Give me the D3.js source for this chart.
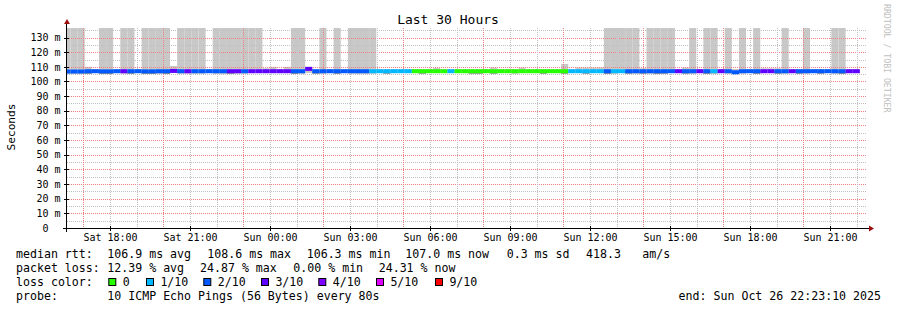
<!DOCTYPE html>
<html>
<head>
  <meta charset="utf-8">
  <title>Last 30 Hours</title>
  <script src="https://cdn.jsdelivr.net/npm/d3@7"></script>
  <style>
    body { margin: 0; background: #fff; }
    text { font-family: "DejaVu Sans Mono", monospace; }
  </style>
</head>
<body>
<svg id="graph" width="897" height="310"></svg>
<script>

// 30 hour window ending at the last update
var endTime = new Date(Date.UTC(2025, 9, 26, 22, 23, 10));
var startTime = new Date(endTime.getTime() - 30 * 3600 * 1000);
var binSeconds = 960;      // consolidated step (12 x 80s)
var binOffset = -488;      // first bin starts before the window

// packets lost (out of 10) per bin
var lossBins = [2,2,2,2,2,2,2,2, 3, 2,2,2,2,2,2, 3, 2, 3, 2,2,2,2,2, 3,3, 2, 3,3,3,3,3,3,
  2,2, 3, 2,2,2,2,2,2,2,2, 1,1,1,1,1,1, 0,0,0,0,0, 1, 0,0,0,0,0,0,0,0,0,0,0,0,0,0,0,0,
  1,1,1,1,1, 2, 1,1, 2,2,2,2,2,2,2, 3, 2,2, 3, 2, 1, 3, 2,2,2,2,2, 3,3, 2,2, 3,
  2,2,2,2,2,2,2, 3,3];

// median rtt per bin (ms)
var medianBins = [106.8,106.8,106.8,107.0,107.0,106.9,106.9,107.0,107.0,107.0,107.0,106.9,106.9,107.0,107.0,107.2,
  107.0,107.0,107.0,107.0,107.0,107.0,107.0,107.0,107.0,107.0,107.0,107.0,107.0,107.0,107.0,107.0,
  107.0,107.0,108.6,107.0,107.0,107.0,107.0,107.0,107.0,107.0,107.0,107.0,107.0,107.0,107.0,107.0,
  107.0,107.0,107.0,107.0,107.0,107.0,107.0,107.0,107.0,107.0,107.0,107.0,107.0,107.0,107.0,107.0,
  107.0,107.0,107.0,107.0,107.0,107.0,107.0,107.0,107.0,107.0,107.0,107.0,107.0,107.0,107.0,107.0,
  107.0,107.0,107.0,107.0,107.0,107.0,107.0,107.0,107.0,107.0,107.0,107.0,107.0,107.0,106.3,107.0,
  107.0,107.0,107.0,107.0,107.0,107.0,107.0,107.0,107.0,107.0,107.0,107.0,107.0,107.0,107.0,107.0];

// smoke (ping spread) per bin, ms; 150 = off the top of the graph
var smokeMax = [150,150,150,110.0,108.5,150,150,108.5,150,150,108.5,150,150,150,150,110.6,
  150,150,150,150,108.5,150,150,150,150,150,150,150,109.0,110.0,108.5,110.0,
  150,150,110.0,108.5,150,108.5,150,108.5,150,150,150,150,108.5,108.5,108.5,108.5,
  108.5,108.5,108.5,108.5,109.2,108.5,108.5,108.5,108.5,108.5,108.5,108.5,109.5,108.5,108.5,108.5,
  109.5,108.5,108.5,108.5,108.5,108.5,112.0,108.5,109.5,109.5,109.5,109.5,150,150,150,150,
  150,109.0,150,150,150,150,108.5,109.5,150,108.5,150,150,108.5,150,108.5,150,
  108.5,150,109.0,109.0,109.0,150,108.5,108.5,150,108.5,108.5,108.5,150,150,108.5,108.5];
var smokeMin = [105.0,105.0,105.0,105.2,105.8,105.0,105.0,105.8,105.2,105.2,105.8,105.2,105.2,105.0,105.0,105.8,
  105.2,105.2,105.2,105.2,105.8,105.0,105.0,105.2,105.2,105.2,105.8,105.8,105.8,105.8,105.8,105.8,
  105.0,105.0,105.8,105.8,105.2,105.8,105.2,105.8,105.2,105.0,105.0,105.2,105.8,105.8,105.8,105.8,
  105.8,105.8,105.8,105.8,105.8,105.8,105.8,105.8,105.8,105.8,105.8,105.8,105.8,105.8,105.8,105.2,
  105.8,105.8,105.8,105.8,105.8,105.8,105.8,105.8,105.8,105.8,105.8,105.8,105.2,105.2,105.8,105.8,
  105.2,105.8,105.2,105.0,105.8,105.8,105.8,105.8,105.2,105.8,105.2,105.0,105.8,105.2,105.0,105.2,
  105.8,105.2,105.8,105.8,105.8,105.2,105.8,105.8,105.2,105.8,105.8,105.8,105.2,105.2,105.8,105.8];
// denser smoke just under the median (0 = none visible)
var darkSmoke = [0,0,0,105.3,0,105.3,105.3,0,0,105.3,0,105.3,105.3,0,105.3,0,
  0,0,0,0,0,0,0,105.3,0,0,0,0,0,0,0,0,
  105.3,0,0,105.3,0,0,105.3,0,0,0,0,0,0,105.3,0,0,
  0,0,105.3,0,0,0,0,0,0,105.3,105.3,0,105.3,0,0,0,
  0,0,0,105.3,0,0,105.3,0,0,105.3,0,0,105.3,0,0,105.3,
  0,105.3,0,105.3,105.3,0,0,105.3,0,0,105.3,0,0,0,105.3,0,
  0,105.3,0,0,105.3,0,0,105.3,0,0,105.3,0,0,105.3,0,0];

var yTicks = [0,10,20,30,40,50,60,70,80,90,100,110,120,130];

var lossColors = ["#26ff00","#00b8ff","#0059ff","#5e00ff","#7e00ff","#dd00ff","#dd00ff","#dd00ff","#dd00ff","#ff0000","#ff0000"];
var legendLabels = ["0","1/10","2/10","3/10","4/10","5/10","9/10"];
var legendLoss = [0,1,2,3,4,5,9];

var rttStats = ["106.9 ms avg","108.6 ms max","106.3 ms min","107.0 ms now","0.3 ms sd","418.3","am/s"];
var lossStats = ["12.39 % avg","24.87 % max","0.00 % min","24.31 % now"];

var svg = d3.select("#graph");

var x = d3.scaleUtc().domain([startTime, endTime]).range([67, 867]);
var y = d3.scaleLinear().domain([0, 136.5]).range([228, 28]);

function binStart(i) {
  var t = startTime.getTime() + (binOffset + i * binSeconds) * 1000;
  return new Date(Math.max(t, startTime.getTime()));
}
function binEnd(i) {
  return new Date(startTime.getTime() + (binOffset + (i + 1) * binSeconds) * 1000);
}

var bins = lossBins.map(function(l, i) {
  return {i: i, loss: l, median: medianBins[i], lo: smokeMin[i], hi: smokeMax[i], dark: darkSmoke[i]};
});

svg.append("defs").append("clipPath").attr("id", "plot")
  .append("rect").attr("x", 67).attr("y", 28).attr("width", 800).attr("height", 200);

// smoke
var smoke = svg.append("g").attr("clip-path", "url(#plot)");
smoke.selectAll(".light").data(bins).enter().append("rect")
    .attr("x", function(d) { return x(binStart(d.i)); })
    .attr("width", function(d) { return x(binEnd(d.i)) - x(binStart(d.i)); })
    .attr("y", function(d) { return y(d.hi); })
    .attr("height", function(d) { return y(d.lo) - y(d.hi); })
    .attr("fill", "#c8c8c8");
smoke.selectAll(".dark").data(bins.filter(function(d) { return d.dark > 0; })).enter().append("rect")
    .attr("x", function(d) { return x(binStart(d.i)); })
    .attr("width", function(d) { return x(binEnd(d.i)) - x(binStart(d.i)); })
    .attr("y", function(d) { return y(d.median); })
    .attr("height", function(d) { return y(d.dark) - y(d.median); })
    .attr("fill", "#808080");

// grid
var grid = svg.append("g").attr("shape-rendering", "crispEdges");
var minorY = d3.range(5, 136, 10);
grid.selectAll(".hmin").data(minorY).enter().append("line")
  .attr("x1", 67).attr("x2", 867)
  .attr("y1", function(d) { return Math.round(y(d)) + 0.5; })
  .attr("y2", function(d) { return Math.round(y(d)) + 0.5; })
  .attr("stroke", "#c0c0c0").attr("stroke-dasharray", "1,1");
grid.selectAll(".hmaj").data(yTicks.slice(1)).enter().append("line")
  .attr("x1", 67).attr("x2", 867)
  .attr("y1", function(d) { return Math.round(y(d)) + 0.5; })
  .attr("y2", function(d) { return Math.round(y(d)) + 0.5; })
  .attr("stroke", "#f08080").attr("stroke-dasharray", "1,1");

var hours = x.ticks(d3.utcHour.every(1));
grid.selectAll(".vgrid").data(hours).enter().append("line")
  .attr("x1", function(d) { return Math.round(x(d)) + 0.5; })
  .attr("x2", function(d) { return Math.round(x(d)) + 0.5; })
  .attr("y1", 28).attr("y2", 228)
  .attr("stroke", function(d) { return d.getUTCHours() % 3 === 2 ? "#f08080" : "#c0c0c0"; })
  .attr("stroke-dasharray", "1,1");

// median line coloured by loss
svg.append("g")
  .selectAll("rect").data(bins).enter().append("rect")
    .attr("x", function(d) { return x(binStart(d.i)); })
    .attr("width", function(d) { return x(binEnd(d.i)) - x(binStart(d.i)); })
    .attr("y", function(d) { return y(d.median) - 2; })
    .attr("height", 4)
    .attr("fill", function(d) { return lossColors[d.loss]; });

// axes
var yAxis = svg.append("g").attr("transform", "translate(67,0)")
  .call(d3.axisLeft(y).tickValues(yTicks).tickSize(0).tickPadding(6.5)
    .tickFormat(function(d) { return d ? d + " m" : "0\u00a0\u00a0"; }));
yAxis.select(".domain").remove();
yAxis.selectAll("text").attr("font-family", "DejaVu Sans Mono").attr("font-size", 10).attr("fill", "#000");

var xAxis = svg.append("g").attr("transform", "translate(0,228)")
  .call(d3.axisBottom(x).ticks(d3.utcHour.every(3)).tickSize(0).tickPadding(6)
    .tickFormat(d3.utcFormat("%a %H:%M")));
xAxis.select(".domain").remove();
xAxis.selectAll("text").attr("font-family", "DejaVu Sans Mono").attr("font-size", 10).attr("fill", "#000");

var ax = svg.append("g").attr("shape-rendering", "crispEdges");
ax.append("line").attr("x1", 66.5).attr("x2", 66.5).attr("y1", 24).attr("y2", 232).attr("stroke", "#000");
ax.append("line").attr("x1", 63).attr("x2", 870).attr("y1", 228.5).attr("y2", 228.5).attr("stroke", "#000");
ax.selectAll(".yt").data(yTicks.slice(1)).enter().append("line")
  .attr("x1", 64).attr("x2", 69)
  .attr("y1", function(d) { return Math.round(y(d)) + 0.5; })
  .attr("y2", function(d) { return Math.round(y(d)) + 0.5; })
  .attr("stroke", "#000");
ax.selectAll(".xt").data(x.ticks(d3.utcHour.every(3))).enter().append("line")
  .attr("x1", function(d) { return Math.round(x(d)) + 0.5; })
  .attr("x2", function(d) { return Math.round(x(d)) + 0.5; })
  .attr("y1", 226).attr("y2", 231)
  .attr("stroke", "#000");
svg.append("path").attr("d", "M64,24 L70,24 L67,19 Z").attr("fill", "#a01010");
svg.append("path").attr("d", "M869,225.5 L869,231.5 L874,228.5 Z").attr("fill", "#a01010");

// titles
svg.append("text").attr("x", 448).attr("y", 24).attr("text-anchor", "middle")
  .attr("font-size", 13).text("Last 30 Hours");
svg.append("text").attr("transform", "translate(15,127) rotate(-90)").attr("text-anchor", "middle")
  .attr("font-size", 11.2).text("Seconds");
svg.append("text").attr("transform", "translate(884,4) rotate(90)")
  .attr("font-size", 8.2).attr("fill", "#c0c0c0").text("RRDTOOL / TOBI OETIKER");

// legend
var legend = svg.append("g").attr("font-size", 11.6).attr("fill", "#000");
legend.append("text").attr("x", 16).attr("y", 258).text("median rtt:");
var rttX = [107.3, 207.3, 306.7, 405.3, 506.7, 586, 642.3];
rttStats.forEach(function(s, i) {
  legend.append("text").attr("x", rttX[i]).attr("y", 258).text(s);
});
legend.append("text").attr("x", 16).attr("y", 272).text("packet loss:");
var lossX = [107.3, 200, 293.3, 378.7];
lossStats.forEach(function(s, i) {
  legend.append("text").attr("x", lossX[i]).attr("y", 272).text(s);
});
legend.append("text").attr("x", 16).attr("y", 286).text("loss color:");
var boxX = [108.3, 146, 203.3, 261, 318.3, 376, 435];
legendLabels.forEach(function(s, i) {
  legend.append("rect").attr("x", boxX[i] + 0.5).attr("y", 278.5).attr("width", 7).attr("height", 7)
    .attr("fill", lossColors[legendLoss[i]]).attr("stroke", "#000");
  legend.append("text").attr("x", boxX[i] + 14.4).attr("y", 286).text(s);
});
legend.append("text").attr("x", 16).attr("y", 300).text("probe:");
legend.append("text").attr("x", 107.3).attr("y", 300).text("10 ICMP Echo Pings (56 Bytes) every 80s");
legend.append("text").attr("x", 881).attr("y", 300).attr("text-anchor", "end").text("end: Sun Oct 26 22:23:10 2025");

</script>
</body>
</html>
